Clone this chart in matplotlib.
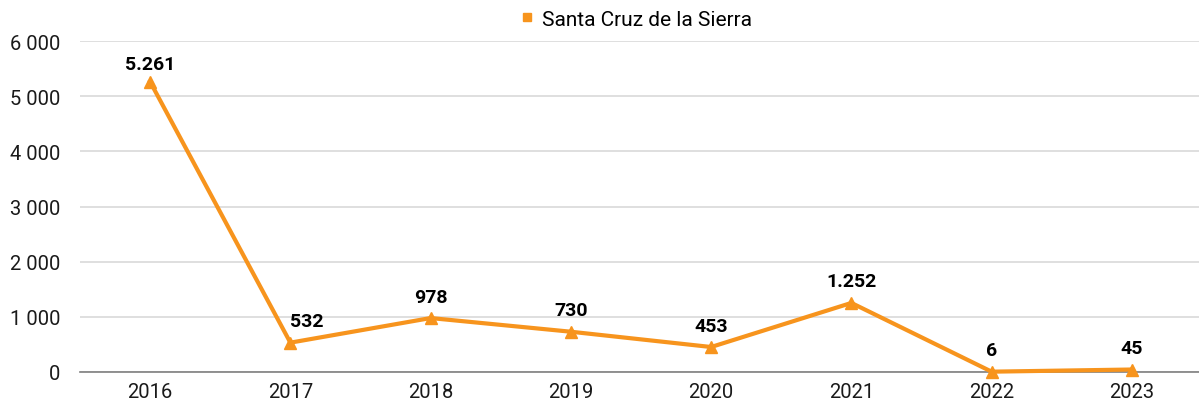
import matplotlib
matplotlib.use("Agg")
import matplotlib.pyplot as plt
from matplotlib.lines import Line2D

years = ["2016", "2017", "2018", "2019", "2020", "2021", "2022", "2023"]
values = [5261, 532, 978, 730, 453, 1252, 6, 45]
labels = ["5.261", "532", "978", "730", "453", "1.252", "6", "45"]
yticks = [0, 1000, 2000, 3000, 4000, 5000, 6000]
yticklabels = ["0", "1 000", "2 000", "3 000", "4 000", "5 000", "6 000"]
series_name = "Santa Cruz de la Sierra"

plt.rcParams['font.family'] = ['Roboto', 'DejaVu Sans']
color = "#F7941D"

fig = plt.figure(figsize=(11.99, 4.02), dpi=100)
ax = fig.add_axes([80/1199, 1 - 373/402, (1202-80)/1199, (373-42)/402])

x = list(range(len(years)))
ax.plot(x, values, color=color, lw=3, marker="^", ms=9, zorder=3, clip_on=False)
for i, (xi, v, lab) in enumerate(zip(x, values, labels)):
    dx = 12 if i == 1 else 0
    dy = 6 if i == 0 else 9
    ax.annotate(lab, (xi, v), xytext=(dx, dy), textcoords="offset points",
                ha="center", va="bottom", fontsize=14, fontweight="bold", color="#000000")

ax.set_xlim(-0.5, 7.5)
ax.set_ylim(0, 6000)
ax.set_yticks(yticks)
ax.set_yticklabels(yticklabels)
ax.set_xticks(x)
ax.set_xticklabels(years)
ax.tick_params(axis="both", length=0, labelsize=14.5, colors="#1a1a1a")
ax.tick_params(axis="y", pad=14)
ax.tick_params(axis="x", pad=7)
ax.grid(axis="y", color="#D9D9D9", lw=1.2)
ax.set_axisbelow(True)
for s in ["top", "right", "left"]:
    ax.spines[s].set_visible(False)
ax.spines["bottom"].set_color("#7F7F7F")
ax.spines["bottom"].set_linewidth(1.2)

handle = Line2D([], [], color=color, marker="s", ls="none", ms=6)
fig.legend([handle], [series_name], loc="center", bbox_to_anchor=(634/1199, 1 - 20/402),
           frameon=False, fontsize=15, handletextpad=0.2, handlelength=1)

fig.savefig("out.png", dpi=100)
